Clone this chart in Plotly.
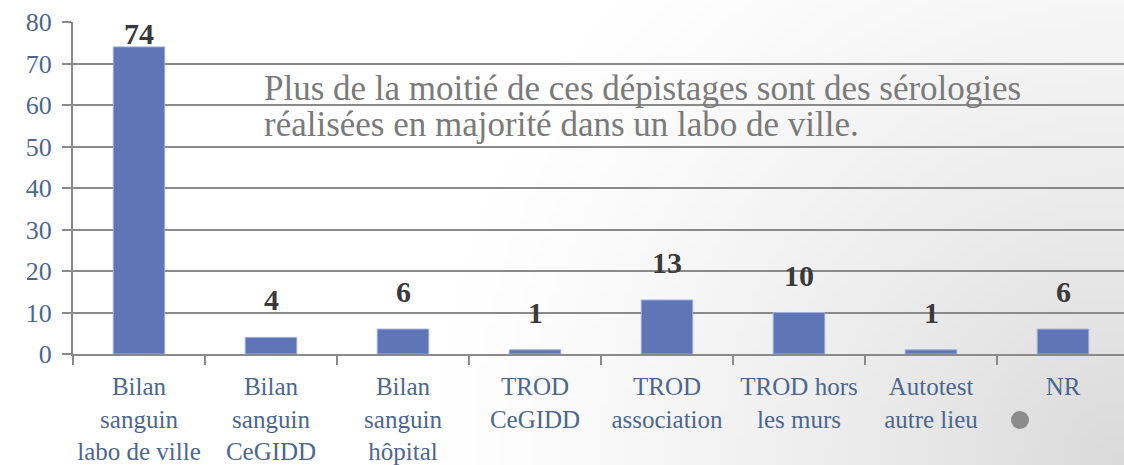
import base64
import struct
import zlib

import plotly.graph_objects as go

# ---- data ----
categories = [
    "Bilan<br>sanguin<br>labo de ville",
    "Bilan<br>sanguin<br>CeGIDD",
    "Bilan<br>sanguin<br>hôpital",
    "TROD<br>CeGIDD",
    "TROD<br>association",
    "TROD hors<br>les murs",
    "Autotest<br>autre lieu",
    "NR",
]
values = [74, 4, 6, 1, 13, 10, 1, 6]
y_ticks = [0, 10, 20, 30, 40, 50, 60, 70, 80]
note_lines = [
    "Plus de la moitié de ces dépistages sont des sérologies",
    "réalisées en majorité dans un labo de ville.",
]

# ---- figure geometry ----
W, H = 1124, 465
ML, MR, MT, MB = 73, 0, 22, 111
PW, PH = W - ML - MR, H - MT - MB


def gradient_png(w, h):
    rows = []
    for j in range(h):
        row = bytearray([0])
        for i in range(w):
            dx = (w - 1 - i) * (W / w)
            dy = (h - 1 - j) * (H / h)
            d = (dx * dx + dy * dy) ** 0.5
            f = max(0.0, 1 - d / 700.0) ** 1.3
            v = int(round(255 - 37 * f))
            row += bytes([v, v, v])
        rows.append(bytes(row))
    raw = b"".join(rows)

    def chunk(tag, data):
        c = tag + data
        return struct.pack(">I", len(data)) + c + struct.pack(">I", zlib.crc32(c) & 0xFFFFFFFF)

    png = b"\x89PNG\r\n\x1a\n"
    png += chunk(b"IHDR", struct.pack(">IIBBBBB", w, h, 8, 2, 0, 0, 0))
    png += chunk(b"IDAT", zlib.compress(raw, 9))
    png += chunk(b"IEND", b"")
    return "data:image/png;base64," + base64.b64encode(png).decode()


FONT = "Liberation Serif"
TICK_COLOR = "#4B6790"
GRID = "#8a8a8a"

x_idx = list(range(len(categories)))

fig = go.Figure()
fig.add_trace(go.Bar(
    x=x_idx,
    y=values,
    width=0.39,
    marker=dict(color="#5E75B6", line=dict(color="#9DADD8", width=1)),
    hoverinfo="x+y",
))

for i, v in zip(x_idx, values):
    shift = -5 if v > 70 else 19
    fig.add_annotation(
        x=i, y=v, xref="x", yref="y", text=f"<b>{v}</b>", showarrow=False,
        yanchor="bottom", yshift=shift,
        font=dict(family=FONT, size=30, color="#3a3a3a"),
    )

for k, line in enumerate(note_lines):
    fig.add_annotation(
        x=(262 - ML) / PW, y=(H - MB - (88 + 37 * k)) / PH,
        xref="paper", yref="paper",
        xanchor="left", yanchor="middle", align="left", showarrow=False,
        text=line, font=dict(family=FONT, size=35, color="#7a7a7a"),
    )

# small grey dot (decorative)
fig.add_shape(
    type="circle", xref="paper", yref="paper",
    xsizemode="pixel", ysizemode="pixel",
    xanchor=(1020 - ML) / PW, yanchor=(H - MB - 420) / PH,
    x0=-9, x1=9, y0=-9, y1=9,
    fillcolor="#8c8c8c", line=dict(width=0),
)

fig.add_layout_image(
    source=gradient_png(140, 58),
    xref="paper", yref="paper",
    x=-ML / PW, y=1 + MT / PH,
    sizex=W / PW, sizey=H / PH,
    sizing="stretch", xanchor="left", yanchor="top",
    layer="below",
)

last_edge = len(categories) - 0.5
fig.update_layout(
    width=W, height=H,
    margin=dict(l=ML, r=MR, t=MT, b=MB, autoexpand=False),
    paper_bgcolor="rgba(0,0,0,0)",
    plot_bgcolor="rgba(0,0,0,0)",
    showlegend=False,
    xaxis=dict(
        range=[-0.5, last_edge - 5 / 132],
        tickvals=x_idx, ticktext=categories, ticks="",
        showgrid=False, zeroline=False,
        showline=True, linecolor=GRID, linewidth=2,
        tickfont=dict(family=FONT, size=25, color=TICK_COLOR),
        ticklabelstandoff=9,
        minor=dict(tickvals=[k - 0.5 for k in range(len(categories) + 1)],
                   ticks="outside", ticklen=9, tickcolor=GRID, tickwidth=2,
                   showgrid=False),
    ),
    yaxis=dict(
        range=[0, 80], tickvals=y_ticks,
        ticks="outside", ticklen=9, tickcolor=GRID, tickwidth=2,
        showgrid=True, gridcolor=GRID, gridwidth=2,
        zeroline=False,
        showline=True, linecolor=GRID, linewidth=2,
        tickfont=dict(family=FONT, size=26, color=TICK_COLOR),
        ticklabelstandoff=5,
    ),
)

fig.write_html(
    "out.html",
    config={"displayModeBar": False},
    post_script="document.body.style.margin='0';document.body.style.overflow='hidden';",
)
